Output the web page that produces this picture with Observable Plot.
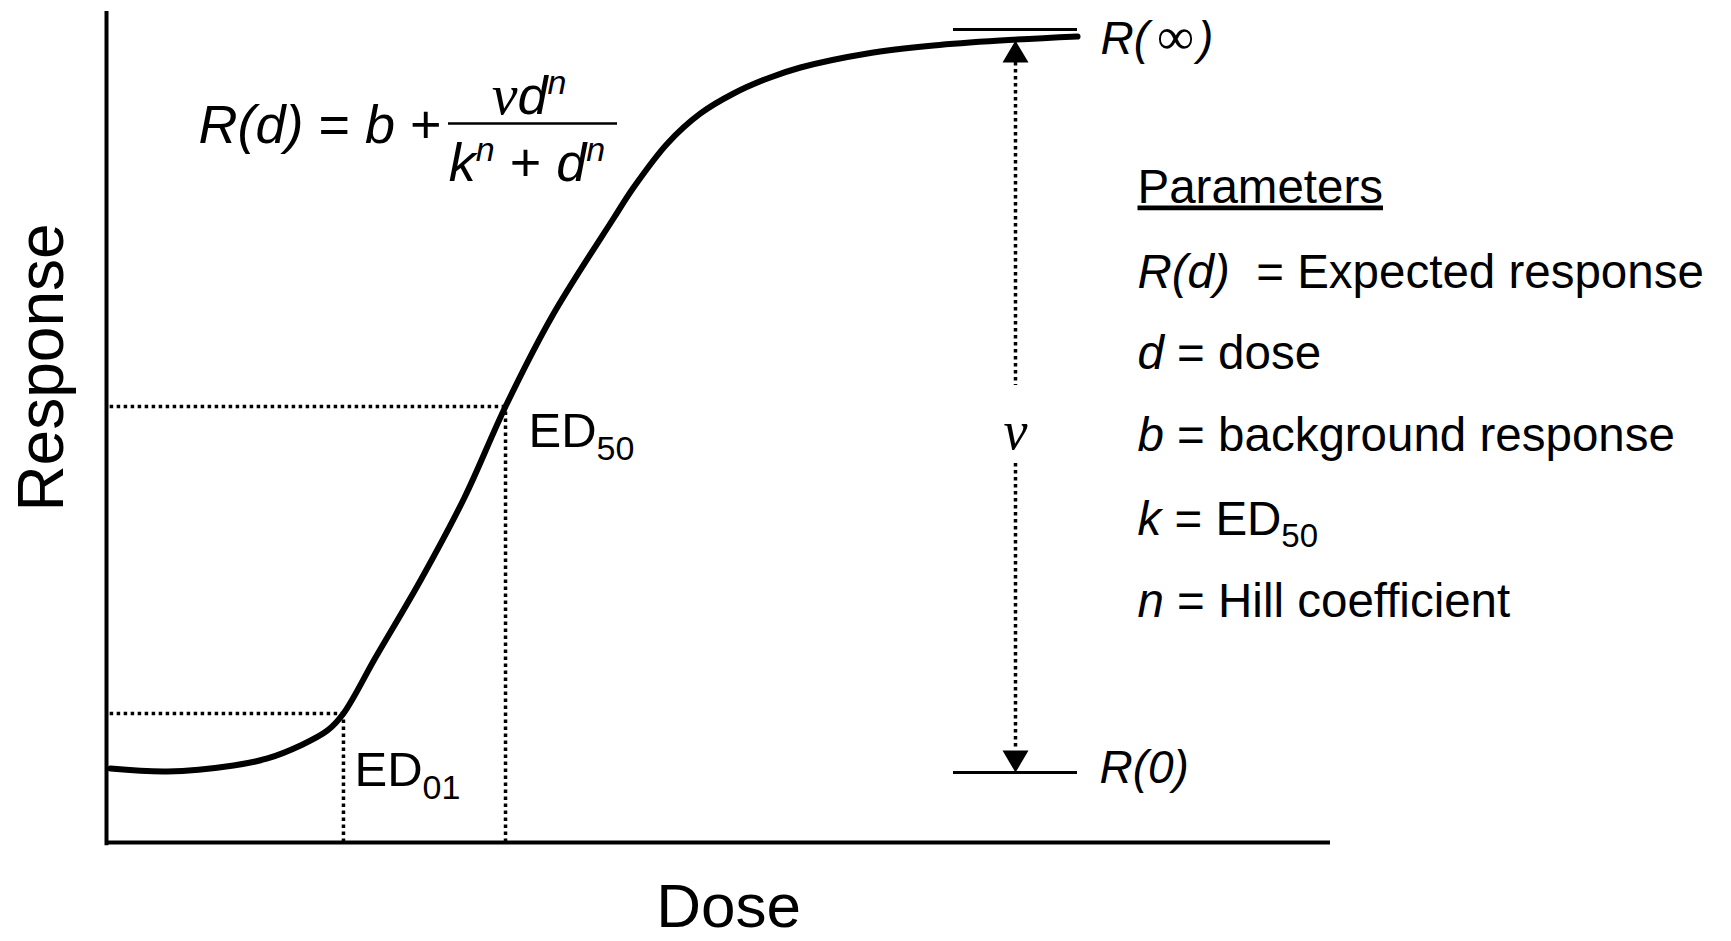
<!DOCTYPE html>
<html><head><meta charset="utf-8">
<script src="https://cdn.jsdelivr.net/npm/d3@7"></script>
<script src="https://cdn.jsdelivr.net/npm/@observablehq/plot@0.6"></script>
<style>html,body{margin:0;padding:0;background:#fff;overflow:hidden}#chart{width:1731px;height:941px}</style>
</head><body><div id="chart"></div>
<script>
// ---- data (dose on 0–100 scale, response on 0–100 scale) ----
const dose = [0.33, 4.98, 10.38, 13.15, 15.85, 18.06, 19.36, 21.98, 25.65, 29.25, 32.60, 36.44, 41.42, 43.06, 45.83, 48.53, 51.23, 54.00, 56.70, 62.17, 67.57, 73.04, 79.33];
const response = [8.90, 8.54, 9.27, 10.11, 11.67, 13.48, 15.52, 22.26, 31.53, 41.52, 52.47, 63.42, 75.09, 78.82, 84.12, 87.73, 90.13, 91.94, 93.26, 94.95, 95.91, 96.51, 96.99];
const background = 8.42;      // R(0)
const maxResponse = 97.83;    // R(∞)
const nuTop = 96.5;           // top of the ν arrow
const ed01 = [19.36, 15.52];  // dose, response
const ed50 = [32.60, 52.47];  // dose, response
const referenceDose = [69.2, 79.33];
const edNames = ["ED", "01", "50"];
const refNames = ["R(", "\u221E", ")", "0"];
const paramSymbols = ["R(d)", "d", "b", "k", "n"];
const paramText = ["\u00a0\u00a0= Expected response", "\u00a0= dose", "\u00a0= background response", "\u00a0= ED", "\u00a0= Hill coefficient"];
const paramSub = ["", "", "", "50", ""];
const axisLabels = ["Dose", "Response"];
const paramTitle = "Parameters";

// ---- layout ----
const W = 1731, H = 941, ML = 106, MR = 401, MT = 11, MB = 99;
const xs = d3.scaleLinear([0, 100], [ML, W - MR]);
const ys = d3.scaleLinear([0, 100], [H - MB, MT]);
const SANS = "Liberation Sans", SERIF = "Liberation Serif";
const ctx = document.createElement("canvas").getContext("2d");
function measure(s) {
  ctx.font = `${s.it ? "italic " : ""}${s.size}px "${s.family || SANS}"`;
  return ctx.measureText(s.t).width;
}
function rich(px, py, segs, anchor = "start") {
  const ws = segs.map(measure);
  const total = d3.sum(ws) + d3.sum(segs, s => s.gap || 0);
  let off = anchor === "middle" ? -total / 2 : anchor === "end" ? -total : 0;
  const x = xs.invert(px), y = ys.invert(py);
  return segs.map((s, i) => {
    off += (s.gap || 0);
    const m = Plot.text([{x, y, t: s.t}], {
      x: "x", y: "y", text: "t", dx: off, dy: s.shift || 0,
      fontSize: s.size, fontStyle: s.it ? "italic" : "normal",
      fontFamily: s.family || SANS, textAnchor: "start", lineAnchor: "bottom", fill: "black"
    });
    off += ws[i];
    return m;
  });
}
const upTri = {draw(c) { c.moveTo(0, 0); c.lineTo(13, 22); c.lineTo(-13, 22); c.closePath(); }};
const downTri = {draw(c) { c.moveTo(0, 0); c.lineTo(13, -22); c.lineTo(-13, -22); c.closePath(); }};

const curve = dose.map((d, i) => ({d, r: response[i]}));
const nuX = (referenceDose[0] + referenceDose[1]) / 2;
const gapCenterPx = (ys(nuTop) + ys(background)) / 2 + 18;
const dotted = {stroke: "black", strokeWidth: 3.5, strokeDasharray: "3.5,3.5"};

// formula
const F = 54, FS = 34;
const fracL = 448, fracR = 617, fracY = 123, fracC = (fracL + fracR) / 2;
const formula = [
  ...rich(198, 142, [{t: "R(d)", size: F, it: true}, {t: "\u00a0=\u00a0", size: F}, {t: "b", size: F, it: true}, {t: "\u00a0+", size: F}]),
  ...rich(fracC - 4, 113, [{t: "\u03bd", size: F + 4, it: true, family: SERIF}, {t: "d", size: F, it: true}, {t: "n", size: FS, it: true, shift: -20}], "middle"),
  ...rich(fracC - 6, 180, [{t: "k", size: F, it: true}, {t: "n", size: FS, it: true, shift: -20}, {t: "\u00a0+\u00a0", size: F}, {t: "d", size: F, it: true}, {t: "n", size: FS, it: true, shift: -20}], "middle"),
  Plot.ruleY([ys.invert(fracY)], {x1: xs.invert(fracL), x2: xs.invert(fracR), stroke: "black", strokeWidth: 2.5})
];

// parameters block
const P = 47.5, PX = 1137;
const baselines = [287, 368, 450, 534, 616];
const params = [
  ...rich(PX, 202, [{t: paramTitle, size: P}]),
  ...paramSymbols.flatMap((s, i) => rich(PX, baselines[i], [
    {t: s, size: P, it: true},
    {t: paramText[i], size: P},
    ...(paramSub[i] ? [{t: paramSub[i], size: 33, shift: 12}] : [])
  ]))
];

const chart = Plot.plot({
  width: W, height: H,
  marginLeft: ML, marginRight: MR, marginTop: MT, marginBottom: MB,
  x: {domain: [0, 100], axis: null},
  y: {domain: [0, 100], axis: null},
  style: {background: "white", fontFamily: SANS},
  marks: [
    // axes
    Plot.ruleX([0], {y1: -0.4, y2: 100, stroke: "black", strokeWidth: 4}),
    Plot.ruleY([0], {x1: 0, x2: 100, stroke: "black", strokeWidth: 4}),
    // ED guides
    Plot.ruleY([ed01[1]], {x1: 0.3, x2: ed01[0], ...dotted}),
    Plot.ruleX([ed01[0]], {y1: 0, y2: ed01[1], ...dotted}),
    Plot.ruleY([ed50[1]], {x1: 0.3, x2: ed50[0], ...dotted}),
    Plot.ruleX([ed50[0]], {y1: 0, y2: ed50[1], ...dotted}),
    // reference lines
    Plot.ruleY([background, maxResponse], {x1: referenceDose[0], x2: referenceDose[1], stroke: "black", strokeWidth: 3}),
    // nu arrow
    Plot.ruleX([nuX], {y1: ys.invert(ys(nuTop) + 22), y2: ys.invert(gapCenterPx - 39), ...dotted}),
    Plot.ruleX([nuX], {y1: ys.invert(gapCenterPx + 39), y2: ys.invert(ys(background) - 22), ...dotted}),
    Plot.dot([{x: nuX, y: nuTop}], {x: "x", y: "y", symbol: upTri, r: 5, fill: "black", stroke: "none"}),
    Plot.dot([{x: nuX, y: background}], {x: "x", y: "y", symbol: downTri, r: 5, fill: "black", stroke: "none"}),
    ...rich(xs(nuX), gapCenterPx + 24, [{t: "\u03bd", size: 54, it: true, family: SERIF}], "middle"),
    // curve
    Plot.line(curve, {x: "d", y: "r", stroke: "black", strokeWidth: 6, curve: "catmull-rom"}),
    // ED labels
    ...rich(xs(ed50[0]) + 23, ys(ed50[1]) + 41, [{t: edNames[0], size: 49}, {t: edNames[2], size: 34, shift: 13}]),
    ...rich(xs(ed01[0]) + 11, ys(ed01[1]) + 72, [{t: edNames[0], size: 49}, {t: edNames[1], size: 34, shift: 13}]),
    // R labels
    ...rich(xs(referenceDose[1]) + 23, ys(maxResponse) + 24, [{t: refNames[0], size: 46, it: true}, {t: refNames[1], size: 52, family: SERIF, gap: 8}, {t: refNames[2], size: 46, it: true, gap: 4}]),
    ...rich(xs(referenceDose[1]) + 22, ys(background) + 10, [{t: refNames[0] + refNames[3] + refNames[2], size: 46, it: true}]),
    // axis labels
    Plot.text([{t: axisLabels[0]}], {x: () => xs.invert(728), y: () => ys.invert(926), text: "t", fontSize: 62, textAnchor: "middle", lineAnchor: "bottom", fill: "black"}),
    Plot.text([{t: axisLabels[1]}], {x: () => xs.invert(62), y: () => ys.invert(367), text: "t", rotate: -90, fontSize: 64, textAnchor: "middle", lineAnchor: "bottom", fill: "black"}),
    ...formula,
    ...params
  ]
});
chart.querySelectorAll("text").forEach(t => { if (t.textContent === paramTitle) t.style.textDecoration = "underline"; });
document.getElementById("chart").appendChild(chart);
</script>
</body></html>
